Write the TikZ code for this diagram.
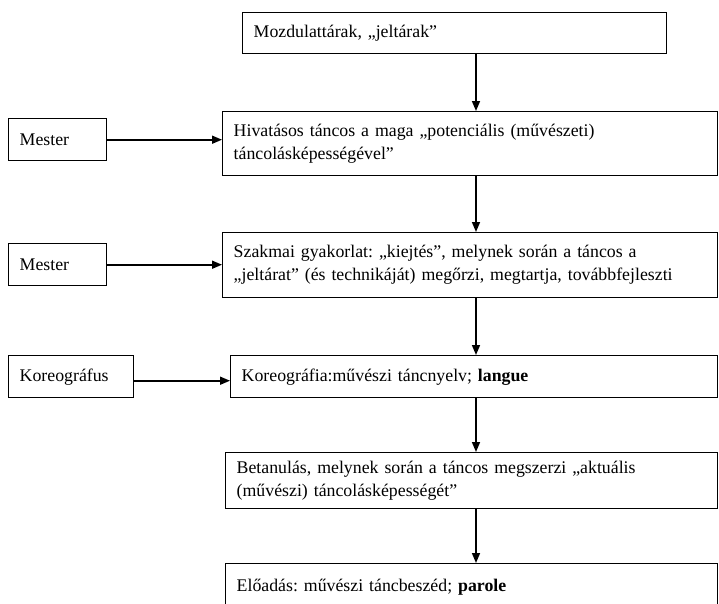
\documentclass[tikz,border=0pt]{standalone}
\usepackage{fontspec}
\setmainfont{Liberation Serif}
\usetikzlibrary{arrows.meta}
\frenchspacing
\begin{document}
\begin{tikzpicture}[x=1pt,y=-1pt,
  frame/.style={draw, line width=1.4pt, rectangle, anchor=north west,
    inner xsep=11pt, inner ysep=0pt, align=left,
    font=\fontsize{17.8}{23}\selectfont},
  flow/.style={-{Triangle[length=10pt,width=8pt]}, line width=1.6pt}]
\useasboundingbox (0,0) rectangle (719,603);

% main column
\node[frame, text width=402pt, minimum height=41pt] (top) at (242,12)
  {Mozdulattárak, „jeltárak”};
\node[frame, text width=473pt, minimum height=64pt] (b2) at (222,111)
  {Hivatásos táncos a maga „potenciális (művészeti)\\táncolásképességével”};
\node[frame, text width=473pt, minimum height=65pt] (b3) at (222,232)
  {Szakmai gyakorlat: „kiejtés”, melynek során a táncos a\\„jeltárat” (és technikáját) megőrzi, megtartja, továbbfejleszti};
\node[frame, text width=465pt, minimum height=42pt] (b4) at (230,355)
  {Koreográfia:művészi táncnyelv; \textbf{langue}};
\node[frame, text width=470pt, minimum height=56pt] (b5) at (225,452)
  {Betanulás, melynek során a táncos megszerzi „aktuális\\(művészi) táncolásképességét”};
\node[frame, text width=470pt, minimum height=47pt] (b6) at (225,563)
  {Előadás: művészi táncbeszéd; \textbf{parole}};

% side boxes
\node[frame, text width=76pt, minimum height=42pt] (m1) at (8,118) {Mester};
\node[frame, text width=76pt, minimum height=42pt] (m2) at (8,243) {Mester};
\node[frame, text width=103pt, minimum height=42pt] (k) at (8,355) {Koreográfus};

% vertical flow line
\coordinate (ax) at (476,0);
\draw[flow] (top.south -| ax) -- (b2.north -| ax);
\draw[flow] (b2.south -| ax) -- (b3.north -| ax);
\draw[flow] (b3.south -| ax) -- (b4.north -| ax);
\draw[flow] (b4.south -| ax) -- (b5.north -| ax);
\draw[flow] (b5.south -| ax) -- (b6.north -| ax);

% side inputs
\draw[flow] (m1.east) -- (m1.east -| b2.west);
\draw[flow] (m2.east) -- (m2.east -| b3.west);
\draw[flow] ([yshift=-4pt]k.east) -- ([yshift=-4pt]k.east -| b4.west);
\end{tikzpicture}
\end{document}
